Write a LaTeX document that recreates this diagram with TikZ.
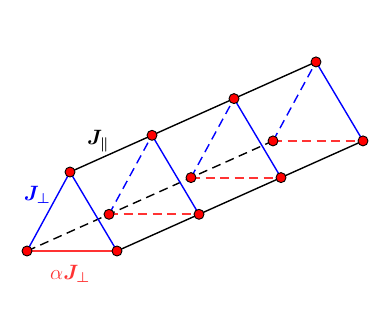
\documentclass[tikz,border=0pt]{standalone}
\usepackage{xcolor}
\usepackage{tikz}
\usetikzlibrary{calc}
\usepackage{amsmath,amssymb}
\colorlet{bondR}{red!80}
\colorlet{bondB}{blue}

\begin{document}
\begin{tikzpicture}[x=1pt,y=-1pt,line width=1.4pt,
    site/.style={circle,draw=black,fill=red,line width=0.9pt,inner sep=0pt,minimum size=10pt},
    backbond/.style={dash pattern=on 9pt off 5.5pt}]
      \useasboundingbox (0,0) rectangle (382,309);

      % shift from one rung to the next
      \pgfmathsetmacro{\dx}{82}
      \pgfmathsetmacro{\dy}{-36.7}

      % corner points of the four triangles
      \foreach \i in {0,...,3} {
        \coordinate (a\i) at ({27+\i*\dx},{251+\i*\dy});
        \coordinate (b\i) at ({117+\i*\dx},{251+\i*\dy});
        \coordinate (c\i) at ({70+\i*\dx},{172+\i*\dy});
      }

      % hidden back leg
      \draw[black, backbond] (a0) -- (a3);
      \foreach \i in {1,...,3} {
        \draw[bondR, backbond, line width=2pt] (a\i) -- (b\i);
        \draw[bondB, backbond] (a\i) -- (c\i);
      }

      % front legs
      \draw[black] (c0) -- (c3);
      \draw[black] (b0) -- (b3);

      % rungs
      \draw[bondR, line width=2pt] (a0) -- (b0);
      \draw[bondB] (a0) -- (c0);
      \foreach \i in {0,...,3}
        \draw[bondB] (c\i) -- (b\i);

      % sites
      \foreach \i in {0,...,3} {
        \node[site] at (a\i) {};
        \node[site] at (b\i) {};
        \node[site] at (c\i) {};
      }

      % couplings
      \node[black] (jpar) at (98,141) {\huge $\boldsymbol{J_\parallel}$};
      \node[bondB] (jperp) at (37,195) {\huge $\boldsymbol{J_\perp}$};
      \node[bondR] (ajperp) at (70,274) {\huge $\alpha\boldsymbol{J_\perp}$};
\end{tikzpicture}
\end{document}
